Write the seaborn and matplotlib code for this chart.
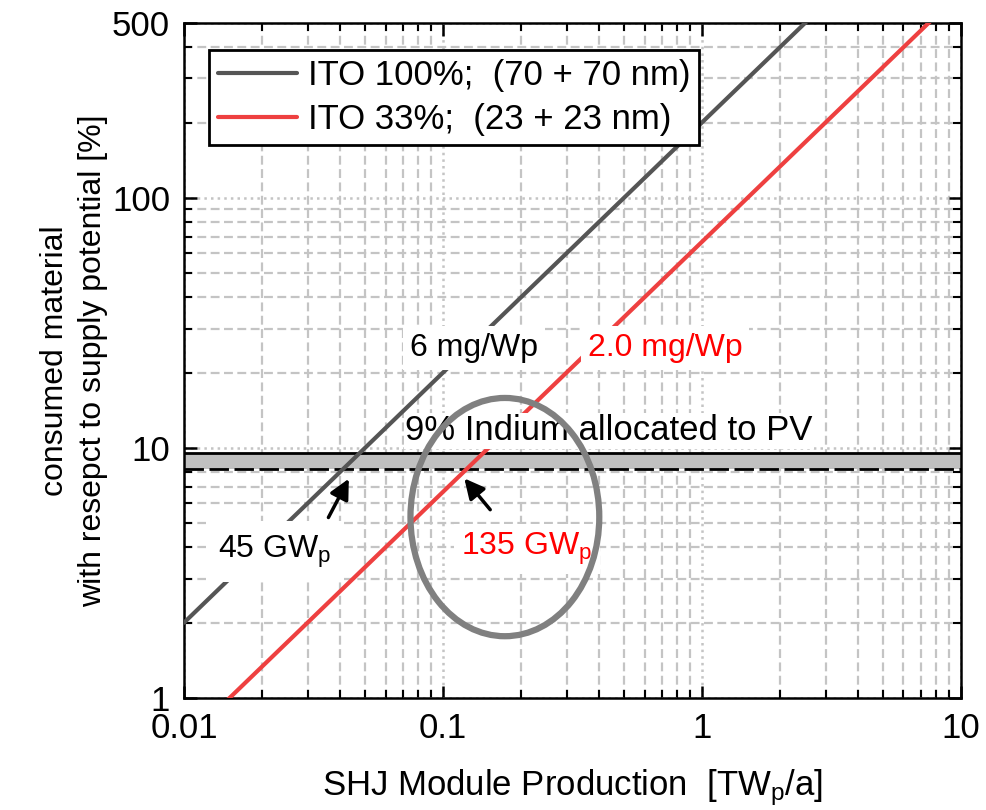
import matplotlib
matplotlib.use('Agg')
import matplotlib.pyplot as plt
import matplotlib.ticker as mticker
from matplotlib.patches import Ellipse
import numpy as np
import pandas as pd
import seaborn as sns

# SHJ module production [TWp/a]
production = [0.01, 10]
# consumed indium w.r.t. supply potential [%]
ito_full = [2.0, 2000.0]      # 6 mg/Wp
ito_third = [0.667, 666.7]    # 2.0 mg/Wp
series_names = ['ITO 100%;  (70 + 70 nm)', 'ITO 33%;  (23 + 23 nm)']
line_colors = ['#555555', '#ee4040']

# 9% indium allocated to PV (band)
band_low = 8.2
band_high = 9.5

x_ticks = [0.01, 0.1, 1, 10]
x_ticklabels = ['0.01', '0.1', '1', '10']
y_ticks = [1, 10, 100, 500]
y_ticklabels = ['1', '10', '100', '500']

sns.set_style('ticks')
plt.rcParams['font.family'] = ['Liberation Sans', 'DejaVu Sans']
plt.rcParams['mathtext.fontset'] = 'custom'
plt.rcParams['mathtext.rm'] = 'Liberation Sans'
plt.rcParams['mathtext.it'] = 'Liberation Sans'
plt.rcParams['mathtext.default'] = 'regular'
for k in ['text.color', 'axes.labelcolor', 'xtick.color', 'ytick.color']:
    plt.rcParams[k] = 'black'

fs = 25

fig = plt.figure(figsize=(9.86, 8.1), dpi=100)
ax = fig.add_axes([0.1866, 0.1383, 0.788, 0.8333])

df = pd.DataFrame({'x': production * 2,
                   'y': ito_full + ito_third,
                   'series': [series_names[0]] * 2 + [series_names[1]] * 2})
sns.lineplot(data=df, x='x', y='y', hue='series', palette=line_colors,
             lw=3, ax=ax, zorder=4)

ax.set_xscale('log')
ax.set_yscale('log')
ax.set_xlim(0.01, 10)
ax.set_ylim(1, 500)

# grid: dotted major, dashed minor
ax.grid(True, which='major', color='#c4c4c4', ls=':', lw=1.8, zorder=0)
ax.grid(True, which='minor', color='#c4c4c4', ls=(0, (4, 2)), lw=1.6, zorder=0)
ax.set_axisbelow(True)

# band
ax.axhspan(band_low, band_high, color='#c0c0c0', zorder=2, lw=0)
ax.axhline(band_high, color='k', lw=2, zorder=3)
ax.axhline(band_low, color='k', lw=2, ls=(0, (7, 2)), zorder=3)

ax.set_xticks(x_ticks)
ax.set_xticklabels(x_ticklabels)
ax.set_yticks(y_ticks)
ax.set_yticklabels(y_ticklabels)
ax.xaxis.set_minor_locator(mticker.LogLocator(base=10, subs=np.arange(2, 10)))
ax.yaxis.set_minor_locator(mticker.LogLocator(base=10, subs=np.arange(2, 10)))
ax.xaxis.set_minor_formatter(mticker.NullFormatter())
ax.yaxis.set_minor_formatter(mticker.NullFormatter())
ax.tick_params(which='major', direction='in', top=True, right=True,
               length=9, width=1.8, labelsize=fs, color='k')
ax.tick_params(which='minor', direction='in', top=True, right=True,
               length=5.5, width=1.5, color='k')
ax.tick_params(axis='x', which='major', pad=10)
ax.tick_params(axis='y', which='major', pad=10)
for s in ax.spines.values():
    s.set_linewidth(1.8)
    s.set_color('k')

ax.set_xlabel('SHJ Module Production  [TW$_p$/a]', fontsize=fs, labelpad=16)
ax.set_ylabel('consumed material\nwith resepct to supply potential [%]',
              fontsize=23, labelpad=3, linespacing=1.35)

leg = ax.legend(loc='upper left', bbox_to_anchor=(0.032, 0.96), borderaxespad=0,
                fontsize=fs, frameon=True, fancybox=False, edgecolor='k',
                handlelength=2.3, handletextpad=0.3, labelspacing=0.33,
                borderpad=0.25, title=None)
leg.get_frame().set_linewidth(2)
leg.get_frame().set_alpha(1)
for h in leg.get_lines():
    h.set_linewidth(3)

white = dict(facecolor='white', edgecolor='none', pad=5)
ax.text(0.132, 25.1, '6 mg/Wp', fontsize=23, ha='center', va='center',
        bbox=white, zorder=5)
ax.text(0.72, 25.1, '2.0 mg/Wp', fontsize=23, color='#ff0000', ha='center',
        va='center', bbox=white, zorder=5)
ax.text(0.437, 11.7, '9% Indium allocated to PV', fontsize=fs, ha='center',
        va='center', bbox=dict(facecolor='white', edgecolor='none', pad=1), zorder=5)
ax.text(0.0224, 3.85, '45 GW$_p$', fontsize=23, ha='center', va='center',
        bbox=dict(facecolor='white', edgecolor='none', pad=9), zorder=5)
ax.text(0.211, 3.95, '135 GW$_p$', fontsize=23, color='#ff0000', ha='center',
        va='center', bbox=white, zorder=5)

arrow = dict(arrowstyle='-|>', color='k', lw=2.5, mutation_scale=30)
ax.annotate('', xy=(0.0438, 7.7), xytext=(0.0357, 5.15), arrowprops=arrow, zorder=6)
ax.annotate('', xy=(0.119, 7.7), xytext=(0.1546, 5.55), arrowprops=arrow, zorder=6)

ax.add_patch(Ellipse((0.413, 0.268), 0.243, 0.353, transform=ax.transAxes,
                     fill=False, ec='#808080', lw=4.5, zorder=7))

fig.savefig('out.png', dpi=100)
